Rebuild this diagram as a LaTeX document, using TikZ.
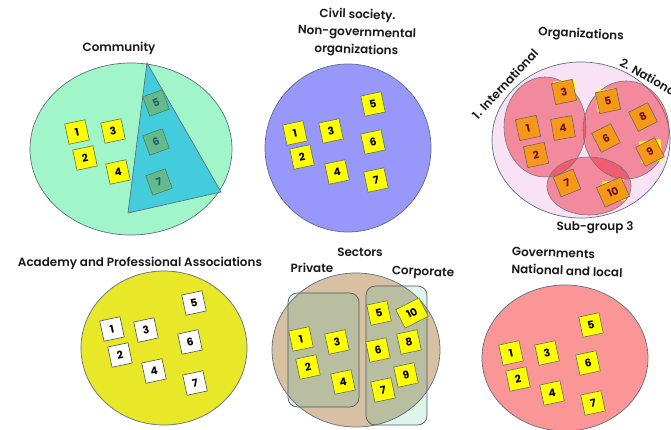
\documentclass[tikz,border=0pt]{standalone}
\usepackage{fontspec}
\setmainfont{Poppins}
\IfFontExistsTF{Poppins SemiBold}{\newfontfamily\titlefont{Poppins SemiBold}}{\IfFontExistsTF{Poppins Medium}{\newfontfamily\titlefont{Poppins Medium}[FakeBold=1]}{\newfontfamily\titlefont{Poppins}[FakeBold=2]}}
\definecolor{mint}{RGB}{160,246,200}
\definecolor{tricyan}{RGB}{66,204,220}
\definecolor{trigreen}{RGB}{100,186,138}
\definecolor{tritext}{RGB}{35,95,110}
\definecolor{periw}{RGB}{152,152,250}
\definecolor{lpink}{RGB}{250,226,246}
\definecolor{redc}{RGB}{238,50,70}
\definecolor{orangebox}{RGB}{248,152,24}
\definecolor{maroon}{RGB}{105,20,20}
\definecolor{acyellow}{RGB}{232,232,40}
\definecolor{tan}{RGB}{216,192,162}
\definecolor{olive}{RGB}{186,190,160}
\definecolor{lcyan}{RGB}{222,245,236}
\definecolor{govpink}{RGB}{250,150,150}
\definecolor{yboxc}{RGB}{255,255,0}
\definecolor{edge}{RGB}{95,110,130}
\definecolor{boxline}{RGB}{90,110,90}
\tikzset{
  shapeedge/.style={draw=edge, line width=0.6pt},
  title/.style={font=\titlefont\fontsize{10.2}{15}\selectfont, text=black!90, inner sep=0pt},
  bx/.style={draw=boxline, line width=0.5pt, minimum size=0.62cm, inner sep=0pt,
    font=\bfseries\fontsize{9}{9}\selectfont, rotate=12},
  ybox/.style={bx, fill=yboxc},
  gbox/.style={bx, fill=trigreen, text=tritext, draw=trigreen!70!black, rotate=8},
  wbox/.style={bx, fill=white, draw=black!70},
  obox/.style={bx, fill=orangebox, text=maroon, draw=black!60, minimum size=0.64cm},
  under/.style={bx, fill=yboxc, draw=none, minimum size=0.64cm},
}
\begin{document}
\begin{tikzpicture}[x=0.03cm, y=-0.03cm]
\useasboundingbox (0,0) rectangle (671,430);

% ---------- Panel 1: Community ----------
\node[title] (t1) at (119,48) {Community};
\draw[shapeedge, fill=mint] (131,149) ellipse [x radius=101, y radius=86];
\node[ybox] (c1) at (77,132) {1};
\node[ybox] (c3) at (113,131) {3};
\node[ybox] (c2) at (85,158) {2};
\node[ybox] (c4) at (118,172) {4};
\draw[draw=edge, line width=0.6pt, fill=tricyan] (147,63) -- (221,192) -- (128,213) -- cycle;
\node[gbox] (c5) at (156,103) {5};
\node[gbox] (c6) at (156,142) {6};
\node[gbox] (c7) at (159,182) {7};

% ---------- Panel 2: Civil society ----------
\node[title, align=center, rotate=-2] (t2) at (357,33) {Civil society.\\Non-governmental\\organizations};
\draw[shapeedge, fill=periw] (348,148) ellipse [x radius=83, y radius=84];
\node[ybox] (n1) at (295,133) {1};
\node[ybox] (n3) at (331,131) {3};
\node[ybox] (n2) at (302,157) {2};
\node[ybox] (n4) at (337,172) {4};
\node[ybox] (n5) at (373,104) {5};
\node[ybox] (n6) at (373,142) {6};
\node[ybox] (n7) at (376,180) {7};

% ---------- Panel 3: Organizations ----------
\node[title, rotate=-3] (t3) at (581,35) {Organizations};
\draw[shapeedge, fill=lpink] (581,140) ellipse [x radius=89, y radius=78];
\fill[redc, opacity=0.5] (545,127) ellipse [x radius=41, y radius=50];
\fill[redc, opacity=0.5] (626,130) ellipse [x radius=43, y radius=49];
\fill[redc, opacity=0.5] (589,186) ellipse [x radius=42, y radius=29];
\draw[draw=black!55, line width=0.5pt] (545,127) ellipse [x radius=41, y radius=50];
\draw[draw=black!55, line width=0.5pt] (626,130) ellipse [x radius=43, y radius=49];
\draw[draw=black!55, line width=0.5pt] (589,186) ellipse [x radius=42, y radius=29];
\node[under, rotate=-5] (u3) at (565,91) {};
\node[under, rotate=-5] (u5) at (607,100) {};
\node[under, rotate=-5] (u9) at (651,151) {};
\node[under, rotate=-5] (u10) at (614,191) {};
\node[obox] (o3) at (564,92) {3};
\node[obox] (o1) at (528,128) {1};
\node[obox, rotate=-2] (o4) at (563,128) {4};
\node[obox] (o2) at (536,155) {2};
\node[obox, rotate=0] (o5) at (608,101) {5};
\node[obox, rotate=15] (o8) at (643,117) {8};
\node[obox, rotate=15] (o6) at (606,138) {6};
\node[obox, rotate=15] (o9) at (650,152) {9};
\node[obox, rotate=10] (o7) at (567,183) {7};
\node[obox, rotate=12, minimum width=0.8cm] (o10) at (613,192) {10};
\node[title, rotate=47] (lint) at (505,84) {1. International};
\node[title, rotate=-30, anchor=west] (lnat) at (621,61) {2. National};
\node[title] (lsub) at (595,228) {Sub-group 3};

% ---------- Panel 4: Academy ----------
\node[title] (t4) at (140,263) {Academy and Professional Associations};
\draw[shapeedge, fill=acyellow] (164,348) ellipse [x radius=83, y radius=77];
\node[wbox] (a5) at (194,303) {5};
\node[wbox] (a1) at (112,329) {1};
\node[wbox] (a3) at (146,330) {3};
\node[wbox] (a6) at (190,342) {6};
\node[wbox] (a2) at (120,355) {2};
\node[wbox] (a4) at (154,371) {4};
\node[wbox] (a7) at (195,383) {7};

% ---------- Panel 5: Sectors ----------
\node[title] (t5) at (360,252) {Sectors};
\node[title] (lpriv) at (312,268) {Private};
\node[title, rotate=-3] (lcorp) at (423,273) {Corporate};
\fill[lcyan, rounded corners=8] (288,293) rectangle (359,407);
\fill[lcyan, rounded corners=8] (366,286) rectangle (427,425);
\fill[tan] (356,350) ellipse [x radius=84, y radius=77];
\begin{scope}
  \clip (356,350) ellipse [x radius=84, y radius=77];
  \fill[olive, rounded corners=8] (288,293) rectangle (359,407);
  \fill[olive, rounded corners=8] (366,286) rectangle (427,425);
\end{scope}
\draw[shapeedge] (356,350) ellipse [x radius=84, y radius=77];
\draw[draw=edge!80!black, line width=0.6pt, rounded corners=8] (288,293) rectangle (359,407);
\draw[draw=edge!80!black, line width=0.6pt, rounded corners=8] (366,286) rectangle (427,425);
\node[ybox] (s1) at (301,339) {1};
\node[ybox] (s3) at (337,342) {3};
\node[ybox] (s2) at (308,367) {2};
\node[ybox] (s4) at (343,382) {4};
\node[ybox, rotate=0] (s5) at (379,313) {5};
\node[ybox, rotate=15, minimum width=0.78cm] (s10) at (412,313) {10};
\node[ybox] (s6) at (378,350) {6};
\node[ybox] (s8) at (409,342) {8};
\node[ybox] (s7) at (383,390) {7};
\node[ybox] (s9) at (406,375) {9};

% ---------- Panel 6: Governments ----------
\node[title, align=left, anchor=north west, rotate=-2] (t6) at (512,247) {Governments\\National and local};
\draw[shapeedge, fill=govpink] (565,358) ellipse [x radius=83, y radius=73];
\node[ybox] (g5) at (591,325) {5};
\node[ybox] (g1) at (511,353) {1};
\node[ybox] (g3) at (547,353) {3};
\node[ybox] (g6) at (588,363) {6};
\node[ybox] (g2) at (518,379) {2};
\node[ybox] (g4) at (552,393) {4};
\node[ybox] (g7) at (593,403) {7};
\end{tikzpicture}
\end{document}
